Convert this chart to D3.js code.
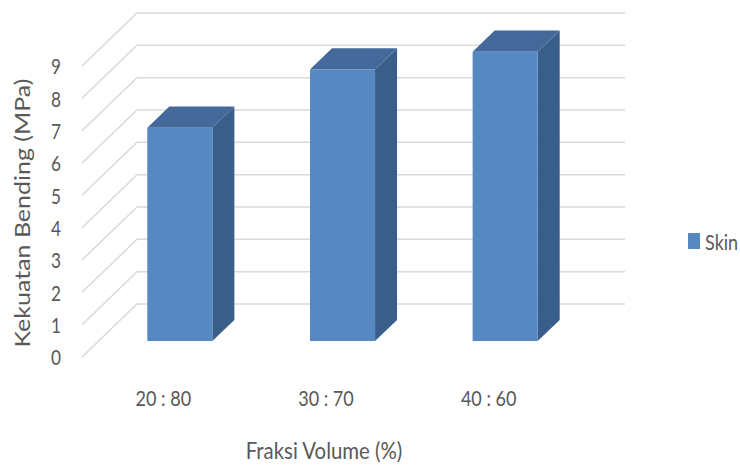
<!DOCTYPE html>
<html>
<head>
<meta charset="utf-8">
<script src="https://cdn.jsdelivr.net/npm/d3@7"></script>
<style>
  html, body { margin: 0; padding: 0; background: #fff; }
  svg text { font-family: Lato, "Open Sans", sans-serif; fill: #595959; }
</style>
</head>
<body>
<div id="viz"></div>
<script>
// Data.
const categories = ["20 : 80", "30 : 70", "40 : 60"];
const skinValues = [6.6, 8.4, 8.95];
const yTicks = [0, 1, 2, 3, 4, 5, 6, 7, 8, 9];
const seriesName = "Skin";

const W = 740, H = 466;
const svg = d3.select("#viz").append("svg")
  .attr("width", W)
  .attr("height", H);

// Oblique 3D: front plane scales plus a depth vector to the back wall.
const x = d3.scaleBand()
  .domain(categories)
  .range([82, 570])
  .paddingInner(0.6)
  .paddingOuter(0.3);
const y = d3.scaleLinear().domain([0, 9]).range([357, 66]);
const depth = { dx: 55, dy: -53 };
const barFront = 0.3, barBack = 0.7;

const P = (px, v, f) => [px + f * depth.dx, y(v) + f * depth.dy];
const pts = arr => arr.map(p => p.join(",")).join(" ");

// the reference is squeezed sideways, so text is narrowed a bit
const textScale = 0.82;

// Gridlines: left wall diagonal + back wall horizontal.
const grid = svg.append("g")
  .attr("fill", "none")
  .attr("stroke", "#d9d9d9")
  .attr("stroke-width", 1.5);

grid.selectAll("polyline")
  .data(yTicks)
  .join("polyline")
  .attr("points", d => pts([P(82, d, 0), P(82, d, 1), P(570, d, 1)]));

// Tick labels.
svg.append("g")
  .selectAll("text")
  .data(yTicks)
  .join("text")
  .attr("transform", d => `translate(56,${y(d)}) scale(${textScale},1)`)
  .attr("text-anchor", "middle")
  .attr("dominant-baseline", "central")
  .style("font-size", "21px")
  .text(d => d);

// Bars.
const bars = svg.append("g")
  .selectAll("g")
  .data(categories.map((c, i) => ({ c, v: skinValues[i] })))
  .join("g");

// side face
bars.append("polygon")
  .attr("fill", "#3a5e8a")
  .attr("points", d => {
    const xr = x(d.c) + x.bandwidth();
    return pts([P(xr, 0, barFront), P(xr, 0, barBack), P(xr, d.v, barBack), P(xr, d.v, barFront)]);
  });

// top face
bars.append("polygon")
  .attr("fill", "#45699a")
  .attr("points", d => {
    const xl = x(d.c), xr = xl + x.bandwidth();
    return pts([P(xl, d.v, barFront), P(xr, d.v, barFront), P(xr, d.v, barBack), P(xl, d.v, barBack)]);
  });

// front face
bars.append("polygon")
  .attr("fill", "#5689c2")
  .attr("points", d => {
    const xl = x(d.c), xr = xl + x.bandwidth();
    return pts([P(xl, 0, barFront), P(xr, 0, barFront), P(xr, d.v, barFront), P(xl, d.v, barFront)]);
  });

// Category labels.
svg.append("g")
  .selectAll("text")
  .data(categories)
  .join("text")
  .attr("transform", d => `translate(${x(d) + x.bandwidth() / 2},397) scale(${textScale},1)`)
  .attr("text-anchor", "middle")
  .attr("dominant-baseline", "central")
  .style("font-size", "22px")
  .text(d => d);

// Axis titles.
svg.append("text")
  .attr("transform", `translate(324,450) scale(0.85,1)`)
  .attr("text-anchor", "middle")
  .attr("dominant-baseline", "central")
  .style("font-size", "24px")
  .text("Fraksi Volume (%)");

svg.append("text")
  .attr("transform", `translate(22,213) scale(${textScale},1) rotate(-90)`)
  .attr("text-anchor", "middle")
  .attr("dominant-baseline", "central")
  .style("font-size", "25px")
  .text("Kekuatan Bending (MPa)");

// Legend.
const legend = svg.append("g").attr("transform", "translate(688,241)");
legend.append("rect")
  .attr("x", 0).attr("y", -8)
  .attr("width", 12).attr("height", 16)
  .attr("fill", "#5689c2");
legend.append("text")
  .attr("transform", `translate(17,0) scale(${textScale},1)`)
  .attr("dominant-baseline", "central")
  .style("font-size", "22px")
  .text(seriesName);
</script>
</body>
</html>
